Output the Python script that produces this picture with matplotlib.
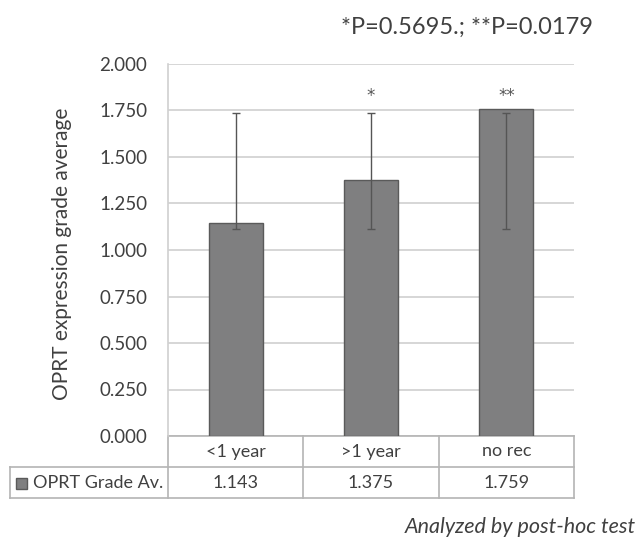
import matplotlib.pyplot as plt
import matplotlib.transforms as mtransforms
from matplotlib.patches import Rectangle

plt.rcParams['font.family'] = ['Lato', 'DejaVu Sans']

categories = ['<1 year', '>1 year', 'no rec']
grade_avg = [1.143, 1.375, 1.759]
err_low = [1.115, 1.115, 1.115]
err_high = [1.738, 1.738, 1.738]
marks = ['', '*', '**']
series_name = 'OPRT Grade Av.'
yticks = [0.0, 0.25, 0.5, 0.75, 1.0, 1.25, 1.5, 1.75, 2.0]
ytick_labels = ['0.000', '0.250', '0.500', '0.750', '1.000', '1.250', '1.500', '1.750', '2.000']

W, H = 639, 538
txt = '#404040'
grid_c = '#d0d0d0'
bar_c = '#7f7f80'
edge_c = '#5a5a5a'

fig = plt.figure(figsize=(W / 100, H / 100), dpi=100)
ax = fig.add_axes([168 / W, (H - 436) / H, 406 / W, 372 / H])

x = list(range(len(categories)))
ax.bar(x, grade_avg, width=0.4, color=bar_c, edgecolor=edge_c, linewidth=1, zorder=3)

# high-low lines: centred on the midpoint of low and high
mid = [(lo + hi) / 2 for lo, hi in zip(err_low, err_high)]
half = [(hi - lo) / 2 for lo, hi in zip(err_low, err_high)]
ax.errorbar(x, mid, yerr=half, fmt='none', ecolor='#555555',
            elinewidth=1, capsize=3, capthick=1, zorder=4)

for xi, hi, m in zip(x, err_high, marks):
    if m:
        ax.text(xi, hi + 0.09, m, ha='center', va='center', family='DejaVu Sans',
                fontsize=12, color='#555555')

ax.set_xlim(-0.5, len(categories) - 0.5)
ax.set_ylim(0, 2.0)
ax.set_yticks(yticks)
ax.set_yticklabels(ytick_labels)
ax.set_xticks([])
ax.tick_params(axis='y', length=0, pad=15, labelsize=13.5, labelcolor=txt)
ax.grid(axis='y', color=grid_c, linewidth=1.2, zorder=0)
ax.set_axisbelow(True)
for s in ['top', 'right', 'bottom']:
    ax.spines[s].set_visible(False)
ax.spines['left'].set_color(grid_c)
ax.spines['left'].set_linewidth(1.2)
ax.set_ylabel('OPRT expression grade average', fontsize=15, color=txt)
ax.yaxis.set_label_coords(-0.236, 0.49)

# data table under the plot
trans = mtransforms.blended_transform_factory(ax.transData, ax.transAxes)
row_h = 31 / 372
left_x = -0.5 - 158 / 135
lc = '#b4b4b4'
n = len(categories)

def hline(x0, x1, y):
    ax.plot([x0, x1], [y, y], color=lc, lw=1.2, transform=trans, clip_on=False)

def vline(xv, y0, y1):
    ax.plot([xv, xv], [y0, y1], color=lc, lw=1.2, transform=trans, clip_on=False)

hline(-0.5, n - 0.5, 0)
hline(left_x, n - 0.5, -row_h)
hline(left_x, n - 0.5, -2 * row_h)
for i in range(n + 1):
    vline(i - 0.5, 0, -2 * row_h)
vline(left_x, -row_h, -2 * row_h)

for xi, c, v in zip(x, categories, grade_avg):
    ax.text(xi, -0.5 * row_h, c, transform=trans, ha='center', va='center',
            fontsize=13, color=txt)
    ax.text(xi, -1.5 * row_h, f'{v:.3f}', transform=trans, ha='center', va='center',
            fontsize=13, color=txt)

sw = Rectangle((16 / W, (H - 489) / H), 11 / W, 11 / H, transform=fig.transFigure,
               facecolor=bar_c, edgecolor=edge_c, lw=1)
fig.add_artist(sw)
fig.text(33 / W, (H - 483) / H, series_name, ha='left', va='center', fontsize=13, color=txt)

fig.text(467 / W, (H - 27) / H, '*P=0.5695.; **P=0.0179', ha='center', va='center',
         fontsize=17, color=txt)
fig.text(636 / W, (H - 527) / H, 'Analyzed by post-hoc test', ha='right', va='center',
         fontsize=15.5, style='italic', color=txt)

fig.savefig('out.png', dpi=100, facecolor='white')
